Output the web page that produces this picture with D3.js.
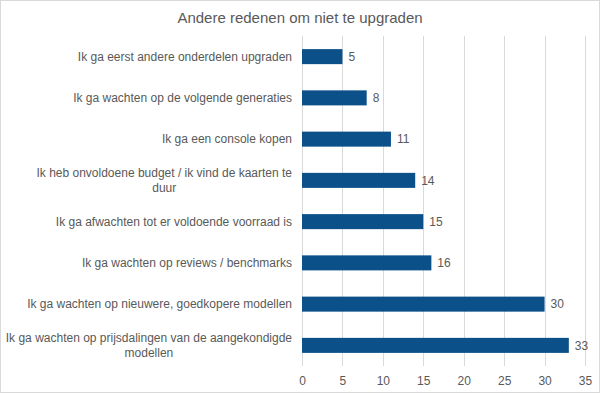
<!DOCTYPE html>
<html>
<head>
<meta charset="utf-8">
<script src="https://cdn.jsdelivr.net/npm/d3@7"></script>
<style>
  body { margin: 0; background: #fff; }
  svg { display: block; font-family: "Liberation Sans", Arial, sans-serif; }
  .axis text { fill: #595959; font-size: 12px; }
</style>
</head>
<body>
<script>
// data (top to bottom)
const categories = [
  'Ik ga eerst andere onderdelen upgraden',
  'Ik ga wachten op de volgende generaties',
  'Ik ga een console kopen',
  'Ik heb onvoldoene budget / ik vind de kaarten te\nduur',
  'Ik ga afwachten tot er voldoende voorraad is',
  'Ik ga wachten op reviews / benchmarks',
  'Ik ga wachten op nieuwere, goedkopere modellen',
  'Ik ga wachten op prijsdalingen van de aangekondigde\nmodellen',
];
const values = [5, 8, 11, 14, 15, 16, 30, 33];
const xTicks = [0, 5, 10, 15, 20, 25, 30, 35];
const title = 'Andere redenen om niet te upgraden';

// constants
const width = 600;
const height = 393;
const plotLeft = 302;
const plotRight = 585;
const plotTop = 36;
const plotBottom = 366;
const textColor = '#595959';
const gridColor = '#d9d9d9';
const barColor = '#0b5089';

const svg = d3.select('body')
  .append('svg')
  .attr('width', width)
  .attr('height', height);

// outer border
svg.append('rect')
  .attr('x', 0.5).attr('y', 0.5)
  .attr('width', width - 1).attr('height', height - 1)
  .attr('fill', '#fff')
  .attr('stroke', gridColor);

const x = d3.scaleLinear().domain([0, 35]).range([plotLeft, plotRight]);
const y = d3.scaleBand()
  .domain(d3.range(categories.length))
  .range([plotTop, plotBottom])
  .paddingInner(0.636)
  .paddingOuter(0.318);

// vertical gridlines
svg.append('g')
  .selectAll('line')
  .data(xTicks)
  .join('line')
  .attr('x1', (d) => Math.round(x(d)) + 0.5)
  .attr('x2', (d) => Math.round(x(d)) + 0.5)
  .attr('y1', plotTop)
  .attr('y2', plotBottom)
  .attr('stroke', gridColor);

// bottom axis (labels only)
const gx = svg.append('g')
  .attr('class', 'axis')
  .attr('transform', `translate(0, ${plotBottom})`)
  .call(d3.axisBottom(x).tickValues(xTicks).tickSize(0).tickPadding(10));
gx.select('.domain').remove();

// bars
svg.append('g')
  .selectAll('rect')
  .data(values)
  .join('rect')
  .attr('x', x(0))
  .attr('y', (d, i) => y(i))
  .attr('width', (d) => x(d) - x(0))
  .attr('height', y.bandwidth())
  .attr('fill', barColor);

// value labels
svg.append('g')
  .selectAll('text')
  .data(values)
  .join('text')
  .attr('x', (d) => x(d) + 6)
  .attr('y', (d, i) => y(i) + y.bandwidth() / 2)
  .attr('dy', '0.35em')
  .attr('fill', textColor)
  .attr('font-size', 12)
  .text((d) => d);

// category labels, multi-line blocks centred and right-aligned to the axis
const labelRight = 292;
const lineHeight = 15;
const labels = svg.append('g')
  .selectAll('text')
  .data(categories)
  .join('text')
  .attr('fill', textColor)
  .attr('font-size', 12)
  .attr('text-anchor', 'middle');

labels.each(function eachLabel(d, i) {
  const lines = d.split('\n');
  const t = d3.select(this);
  const cy = y(i) + y.bandwidth() / 2 - ((lines.length - 1) * lineHeight) / 2;
  lines.forEach((line, j) => {
    t.append('tspan')
      .attr('y', cy + j * lineHeight)
      .attr('dy', '0.35em')
      .text(line);
  });
  const w = d3.max(t.selectAll('tspan').nodes(), (n) => n.getComputedTextLength());
  t.selectAll('tspan').attr('x', labelRight - w / 2);
});

// title
svg.append('text')
  .attr('x', width / 2)
  .attr('y', 18)
  .attr('dy', '0.35em')
  .attr('text-anchor', 'middle')
  .attr('fill', textColor)
  .attr('font-size', 15)
  .text(title);
</script>
</body>
</html>
